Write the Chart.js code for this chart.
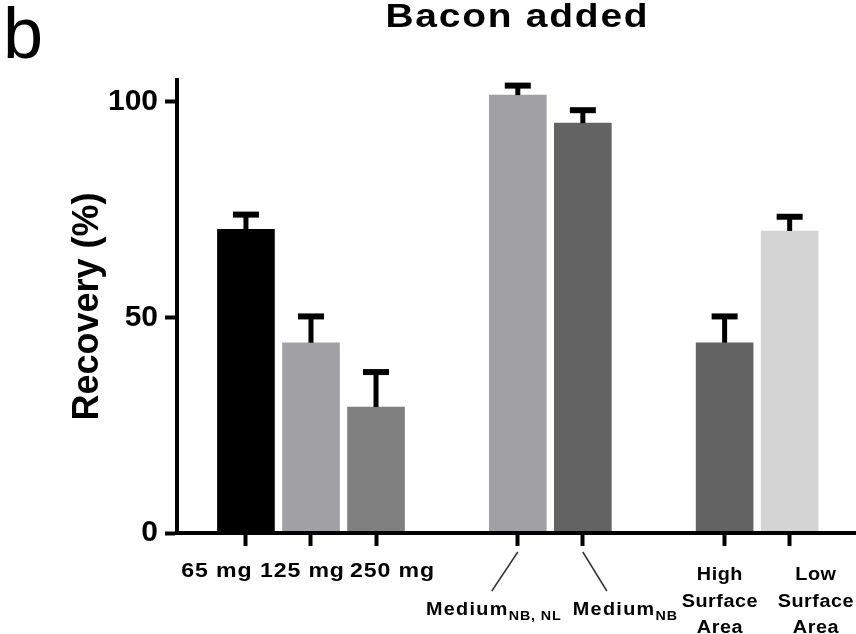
<!DOCTYPE html>
<html>
<head>
<meta charset="utf-8">
<script src="https://cdn.jsdelivr.net/npm/chart.js@4.4.1/dist/chart.umd.min.js"></script>
<style>
  html, body { margin: 0; padding: 0; background: #fff; }
  canvas { display: block; }
</style>
</head>
<body>
<canvas id="myChart" width="856" height="634"></canvas>
<script>
// data
const categories = [['65 mg'], ['125 mg'], ['250 mg'], ['Medium'], ['Medium'], ['High', 'Surface', 'Area'], ['Low', 'Surface', 'Area']];
const subscripts = ['', '', '', 'NB, NL', 'NB', '', ''];
const recovery = [70.4, 44.1, 29.2, 101.5, 95.0, 44.1, 70.0];
const errorUp = [3.4, 6.1, 8.1, 2.2, 3.0, 6.1, 3.3];
const groups = [0, 0, 0, 1, 1, 2, 2];
const yTicks = [0, 50, 100];
const barColors = ['#000000', '#a1a0a5', '#808080', '#a1a0a5', '#636363', '#636363', '#d4d4d4'];

const FONT = "'Liberation Sans', Arial, sans-serif";
Chart.defaults.font.family = FONT;
Chart.defaults.color = '#000';

// layout stuff
const groupGap = 1.18;
const xpos = categories.map((c, i) => i + groups[i] * groupGap);
const labelShift = [-29.5, -9, 16, -24, 42.5, -5, 26];
const leader = [0, 0, 0, -26, 24, 0, 0];

// text is a bit wide in the figure, so stretch it horizontally
function wide(ctx, text, x, y, spacing, sx, align) {
  ctx.letterSpacing = spacing + 'px';
  const w = (ctx.measureText(text).width - spacing) * sx;
  ctx.save();
  ctx.translate(align === 'left' ? x : x - w / 2, y);
  ctx.scale(sx, 1);
  ctx.textAlign = 'left';
  ctx.fillText(text, 0, 0);
  ctx.restore();
  return w;
}

const extras = {
  id: 'extras',
  afterDatasetsDraw(chart) {
    const { ctx, scales: { x, y } } = chart;
    ctx.save();
    ctx.fillStyle = '#000';
    recovery.forEach((v, i) => {
      const px = x.getPixelForValue(xpos[i]);
      const top = y.getPixelForValue(v + errorUp[i]);
      const base = y.getPixelForValue(v);
      ctx.fillRect(px - 2.5, top, 5, base - top);
      ctx.fillRect(px - 13, top - 3, 26, 6);
    });
    ctx.restore();
  },
  afterDraw(chart) {
    const { ctx, chartArea, scales: { x } } = chart;
    const bottom = chartArea.bottom;
    ctx.save();
    ctx.fillStyle = '#000';
    ctx.textBaseline = 'alphabetic';

    // panel letter
    ctx.font = '72px ' + FONT;
    wide(ctx, 'b', 3, 58, 0, 1, 'left');

    // title
    ctx.font = 'bold 33px ' + FONT;
    wide(ctx, 'Bacon added', (chartArea.left + chartArea.right) / 2, 27, 1.5, 1.18);

    categories.forEach((lines, i) => {
      const px = x.getPixelForValue(xpos[i]);
      const cx = px + labelShift[i];
      if (subscripts[i]) {
        ctx.strokeStyle = '#333';
        ctx.lineWidth = 1.5;
        ctx.beginPath();
        ctx.moveTo(px, bottom + 19);
        ctx.lineTo(px + leader[i], bottom + 58);
        ctx.stroke();
        ctx.font = 'bold 18px ' + FONT;
        ctx.letterSpacing = '1.2px';
        const wm = ctx.measureText(lines[0]).width * 1.1;
        ctx.font = 'bold 13px ' + FONT;
        ctx.letterSpacing = '0.8px';
        const ws = ctx.measureText(subscripts[i]).width * 1.1;
        const start = cx - (wm + ws) / 2;
        ctx.font = 'bold 18px ' + FONT;
        wide(ctx, lines[0], start, bottom + 82, 1.2, 1.1, 'left');
        ctx.font = 'bold 13px ' + FONT;
        wide(ctx, subscripts[i], start + wm, bottom + 87, 0.8, 1.1, 'left');
      } else if (lines.length > 1) {
        ctx.font = 'bold 18px ' + FONT;
        lines.forEach((t, k) => wide(ctx, t, cx, bottom + 47 + k * 26.5, 0.5, 1.1));
      } else {
        ctx.font = 'bold 21px ' + FONT;
        wide(ctx, lines[0], cx, bottom + 44, 0.8, 1.1);
      }
    });
    ctx.restore();
  }
};

const ctx = document.getElementById('myChart').getContext('2d');
window.grafica = new Chart(ctx, {
  type: 'bar',
  data: {
    datasets: [{
      data: recovery.map((v, i) => ({ x: xpos[i], y: v })),
      backgroundColor: barColors,
      borderWidth: 0,
      barThickness: 57,
    }],
  },
  options: {
    responsive: false,
    animation: false,
    layout: { padding: { left: 66, right: 0, top: 80, bottom: 0 } },
    plugins: { legend: { display: false }, tooltip: { enabled: false } },
    scales: {
      x: {
        type: 'linear',
        min: -1.06,
        max: 9.38,
        offset: false,
        grid: { offset: false, drawOnChartArea: false, drawTicks: true, tickLength: 13, tickWidth: 4, tickColor: '#000' },
        border: { color: '#000', width: 4, z: 1 },
        ticks: { display: false },
        afterBuildTicks: (axis) => { axis.ticks = xpos.map(v => ({ value: v })); },
        afterFit: (axis) => { axis.height = 101; },
      },
      y: {
        min: 0,
        max: 105,
        grid: { drawOnChartArea: false, tickLength: 12, tickWidth: 4, tickColor: '#000' },
        border: { color: '#000', width: 4, z: 1 },
        ticks: { color: '#000', padding: 7, font: { size: 30, weight: 'bold' } },
        afterBuildTicks: (axis) => { axis.ticks = yTicks.map(v => ({ value: v })); },
        title: { display: true, text: 'Recovery (%)', color: '#000', font: { size: 36, weight: 'bold' }, padding: 0 },
        afterFit: (axis) => { axis.width = 111; },
      },
    },
  },
  plugins: [extras],
});
</script>
</body>
</html>
